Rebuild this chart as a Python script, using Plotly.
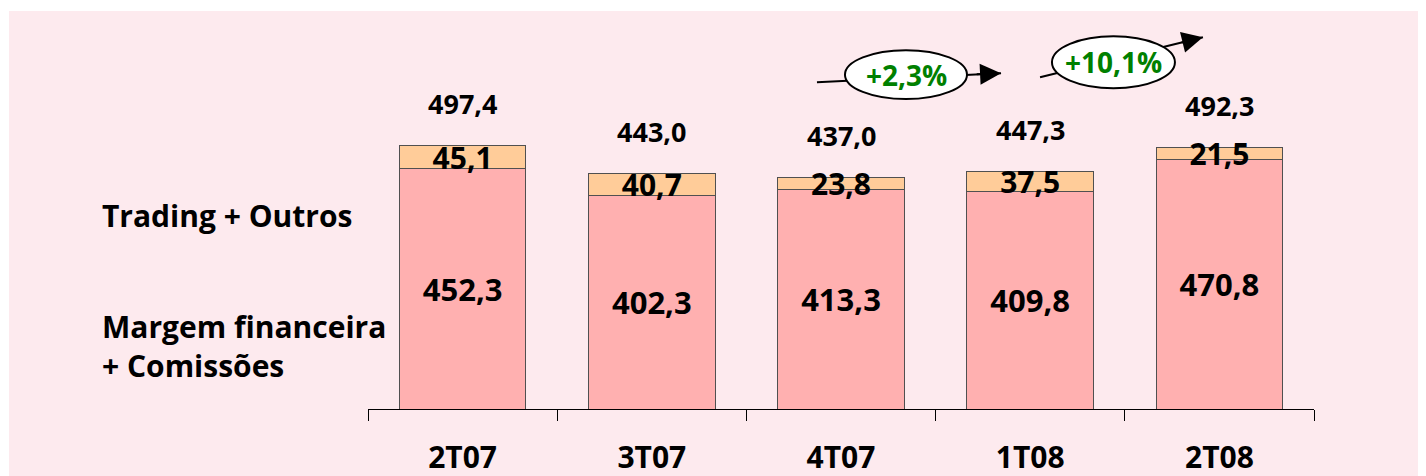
import plotly.graph_objects as go

categories = ["2T07", "3T07", "4T07", "1T08", "2T08"]
margem = [452.3, 402.3, 413.3, 409.8, 470.8]
trading = [45.1, 40.7, 23.8, 37.5, 21.5]
totals = [497.4, 443.0, 437.0, 447.3, 492.3]
growth_labels = ["+2,3%", "+10,1%"]
series_names = ["Margem financeira<br>+ Comissões", "Trading + Outros"]

def fmt(v):
    return f"{v:.1f}".replace(".", ",")

FONT = "Open Sans"
PINK_BG = "#FDEAEE"

fig = go.Figure()
fig.add_trace(go.Bar(
    x=categories, y=margem, name=series_names[0],
    marker=dict(color="#FFB0B0", line=dict(color="#505050", width=1)),
    text=[fmt(v) for v in margem], textposition="inside",
    insidetextanchor="middle", textangle=0, constraintext="none",
    textfont=dict(family=FONT, size=31, color="black", weight="bold"),
    hoverinfo="skip",
))
fig.add_trace(go.Bar(
    x=categories, y=trading, name=series_names[1],
    marker=dict(color="#FFCC99", line=dict(color="#505050", width=1)),
    text=[fmt(v) for v in trading], textposition="inside",
    insidetextanchor="middle", textangle=0, constraintext="none",
    textfont=dict(family=FONT, size=30, color="black", weight="bold"),
    hoverinfo="skip",
))

annotations = []
for c, t in zip(categories, totals):
    annotations.append(dict(
        x=c, y=t, xref="x", yref="y", text=fmt(t), showarrow=False,
        yshift=42, font=dict(family=FONT, size=27, color="black", weight="bold"),
    ))

# left series labels
annotations.append(dict(
    x=-0.2833, xref="paper", y=365, yref="y", text=series_names[1],
    xanchor="left", showarrow=False, align="left",
    font=dict(family=FONT, size=30, color="black", weight="bold"),
))
annotations.append(dict(
    x=-0.2833, xref="paper", y=118, yref="y", text=series_names[0],
    xanchor="left", showarrow=False, align="left",
    font=dict(family=FONT, size=30, color="black", weight="bold"),
))

# growth arrows (decorations)
arrows = [
    dict(tail=(1.873, 615.8), tip=(2.846, 632.8), ell=(2.021, 584.0, 2.666, 676.1), txt=(2.344, 630)),
    dict(tail=(3.052, 625.2), tip=(3.913, 700.6), ell=(3.115, 604.5, 3.765, 702.4), txt=(3.438, 653.5)),
]
shapes = [dict(type="rect", xref="paper", yref="paper", x0=-0.3795, x1=1.2,
               y0=-0.3, y1=1.0231, fillcolor=PINK_BG, line=dict(width=0), layer="below")]
for a, gt in zip(arrows, growth_labels):
    (tx, ty), (hx, hy) = a["tail"], a["tip"]
    shapes.append(dict(type="line", xref="x", yref="y", x0=tx, y0=ty, x1=hx, y1=hy,
                       line=dict(color="black", width=2), layer="above"))
    x0, y0, x1, y1 = a["ell"]
    shapes.append(dict(type="circle", xref="x", yref="y", x0=x0, x1=x1, y0=y0, y1=y1,
                       fillcolor="white", line=dict(color="black", width=2), layer="above"))
    f = 0.86
    annotations.append(dict(
        x=hx, y=hy, ax=tx + f * (hx - tx), ay=ty + f * (hy - ty),
        xref="x", yref="y", axref="x", ayref="y", text="", showarrow=True,
        arrowhead=2, arrowsize=2.1, arrowwidth=2, arrowcolor="black",
    ))
    annotations.append(dict(
        x=a["txt"][0], y=a["txt"][1], xref="x", yref="y", text=gt, showarrow=False,
        font=dict(family=FONT, size=28, color="#008000", weight="bold"),
    ))

fig.update_layout(
    barmode="stack", bargap=0.33,
    width=1418, height=468,
    margin=dict(l=360, r=112, t=12, b=67, autoexpand=False),
    paper_bgcolor="white", plot_bgcolor="rgba(0,0,0,0)",
    showlegend=False,
    xaxis=dict(
        range=[-0.5, 4.5], showline=True, linecolor="black", linewidth=1,
        ticks="outside", tickson="boundaries", ticklen=11, tickcolor="black",
        tickwidth=1, showgrid=False, zeroline=False, automargin=False,
        tickfont=dict(family=FONT, size=30, color="black", weight="bold"),
        ticklabelstandoff=22,
    ),
    yaxis=dict(range=[0, 733], visible=False),
    annotations=annotations,
    shapes=shapes,
)

fig.write_html("out.html")
